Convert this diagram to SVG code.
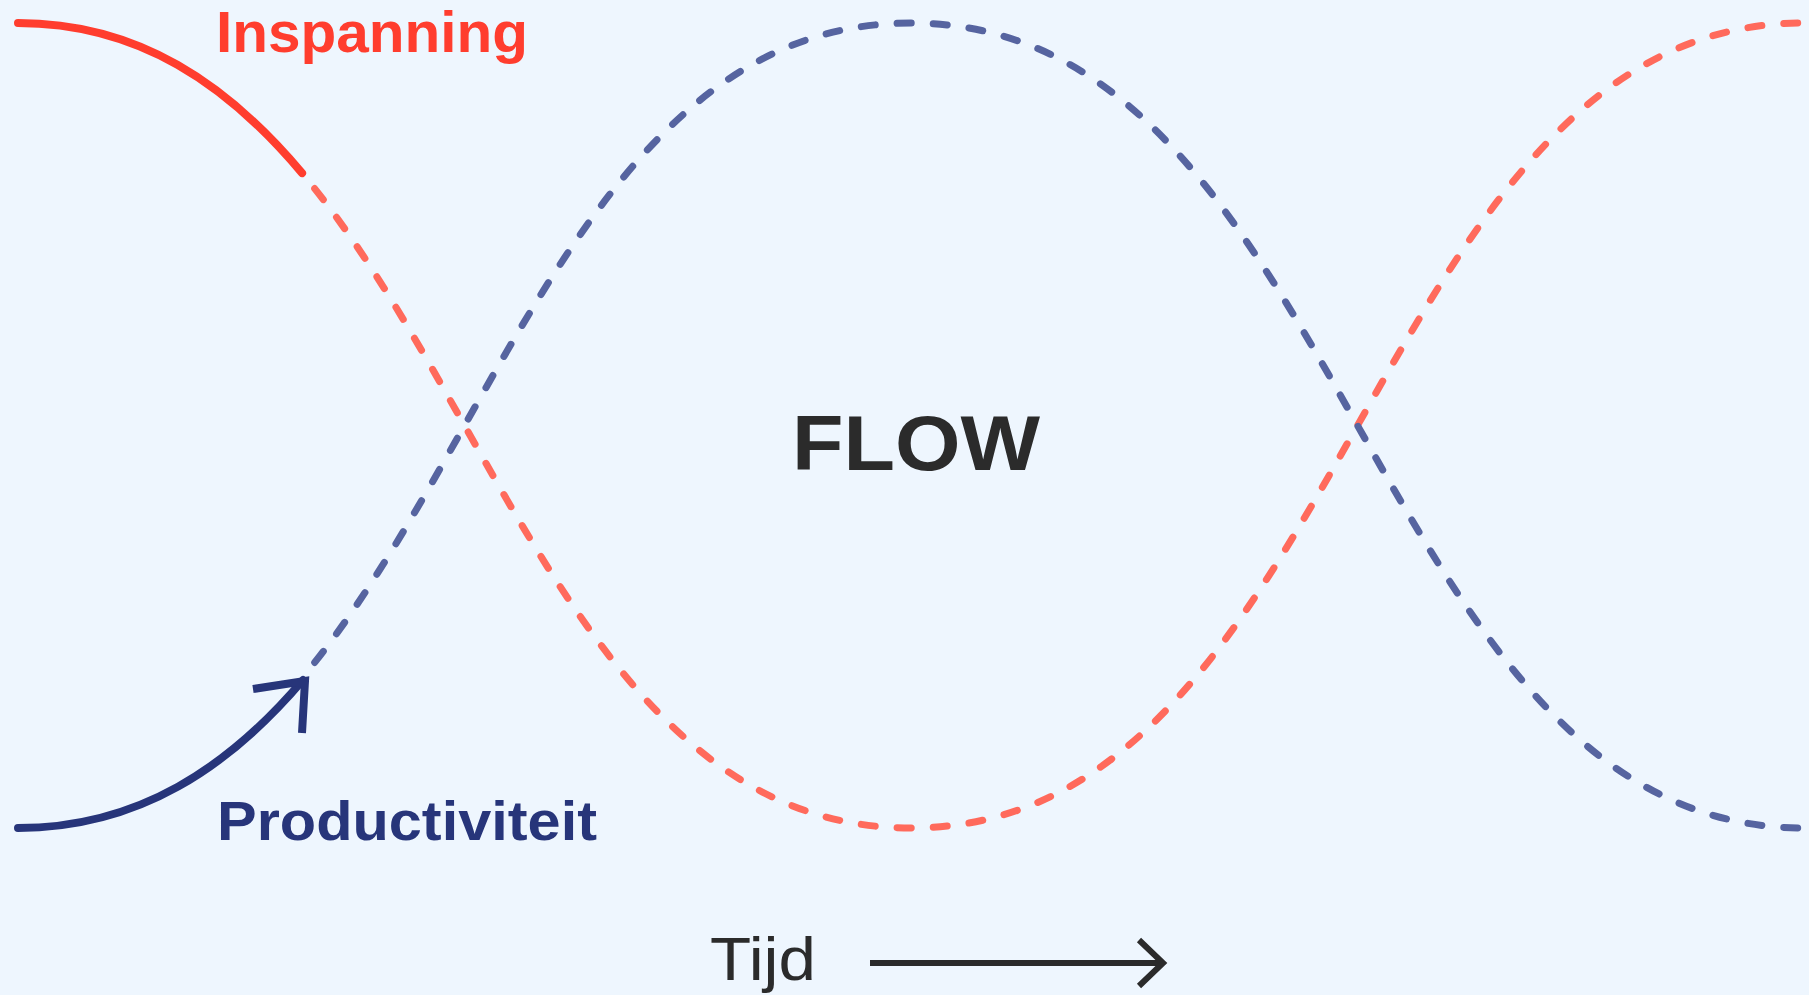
<svg xmlns="http://www.w3.org/2000/svg" width="1809" height="995" viewBox="0 0 1809 995">
  <style>
    .bg { fill: #EEF6FE; }
    .solid-red { fill: none; stroke: #FF3D2E; stroke-width: 8; stroke-linecap: round; }
    .solid-blue { fill: none; stroke: #27357A; stroke-width: 8; stroke-linecap: round; }
    .dash { fill: none; stroke-width: 7; stroke-linecap: round; stroke-dasharray: 14 22; stroke-dashoffset: 16; }
    .dash-red { stroke: #FF6A5C; }
    .dash-blue { stroke: #5664A0; }
    .label { font-family: "Liberation Sans", Arial, sans-serif; font-weight: 700; }
    .dark { fill: #2B2B2B; }
  </style>
  <rect class="bg" x="0" y="0" width="1809" height="995"/>

  <g id="connectors">
    <path id="inspanning-dashed" class="dash dash-red" d="M302.1,173.1 C497.4,406.1 594.2,828 911,828 C1348.6,828 1366.4,23 1804,23 C2241.6,23 2259.4,828 2697,828"/>
    <path id="productiviteit-dashed" class="dash dash-blue" d="M302.1,677.9 C497.4,444.9 594.2,23 911,23 C1348.6,23 1366.4,828 1804,828 C2241.6,828 2259.4,23 2697,23"/>
    <path id="inspanning-solid" class="solid-red" d="M18,23 C138.8,23 227.6,84.3 302.1,173.1"/>
    <path id="productiviteit-solid" class="solid-blue" d="M18,828 C138.8,828 229,767 303,680"/>
    <polyline id="productiviteit-arrowhead" points="253,689 305,681 302,733" fill="none" stroke="#27357A" stroke-width="8" stroke-linejoin="miter" stroke-linecap="butt"/>
    <g id="tijd-arrow" fill="none" stroke="#2B2B2B" stroke-width="6">
      <line x1="870" y1="963" x2="1163" y2="963"/>
      <polyline points="1139,940 1163,963 1139,986" stroke-linejoin="miter"/>
    </g>
  </g>

  <g id="node-inspanning">
    <text class="label" x="216" y="52" font-size="57" fill="#FF3D2E" textLength="312" lengthAdjust="spacingAndGlyphs">Inspanning</text>
  </g>
  <g id="node-productiviteit">
    <text class="label" x="217" y="840" font-size="56" fill="#27357A" textLength="380" lengthAdjust="spacingAndGlyphs">Productiviteit</text>
  </g>
  <g id="node-flow">
    <text class="label dark" x="792" y="470" font-size="78" textLength="248" lengthAdjust="spacingAndGlyphs">FLOW</text>
  </g>
  <g id="node-tijd">
    <text x="710" y="980" font-family="'Liberation Sans', Arial, sans-serif" font-weight="400" font-size="62" fill="#2B2B2B" textLength="106" lengthAdjust="spacingAndGlyphs">Tijd</text>
  </g>
</svg>
